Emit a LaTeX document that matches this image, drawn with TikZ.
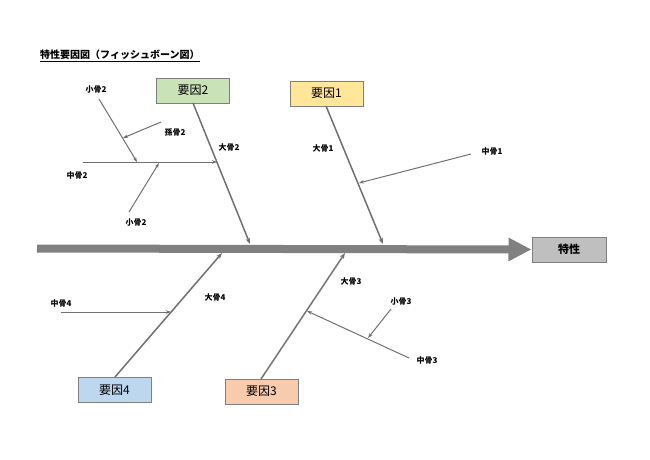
\documentclass[tikz,border=0pt]{standalone}
\usepackage{fontspec}
\setmainfont{Noto Sans CJK JP}
\usetikzlibrary{arrows.meta}
\definecolor{bonegray}{HTML}{707070}
\definecolor{spinegray}{HTML}{808080}
\definecolor{boxgray}{HTML}{7F7F7F}
\definecolor{fgreen}{HTML}{C9E2B8}
\definecolor{fyellow}{HTML}{FFE699}
\definecolor{fblue}{HTML}{BDD7EE}
\definecolor{forange}{HTML}{F8CBAD}
\definecolor{fgray}{HTML}{BFBFBF}
\tikzset{
  box/.style={draw=boxgray, line width=1pt, minimum width=73pt, minimum height=25pt, inner sep=0pt, font=\fontsize{12}{12}\selectfont},
  lbl/.style={font=\fontsize{8}{8}\selectfont\bfseries, inner sep=0pt},
  bigbone/.style={draw=bonegray, line width=1.5pt, -{Stealth[length=6pt,width=4.5pt]}},
  midbone/.style={draw=bonegray, line width=1pt, -{Stealth[length=5pt,width=3.5pt]}},
}
\begin{document}
\begin{tikzpicture}[x=1pt,y=-1pt]
\useasboundingbox (0,0) rectangle (650,460);
% title
\node[anchor=west, inner sep=0pt, font=\fontsize{10}{10}\selectfont\bfseries] (title) at (40,56) {\underline{特性要因図（フィッシュボーン図）}};
% boxes
\node[box, fill=fgray, minimum width=74pt, font=\fontsize{11}{11}\selectfont\bfseries] (res) at (569,249.5) {特性};
\node[box, fill=fgreen] (k2) at (193,90.5) {要因2};
\node[box, fill=fyellow] (k1) at (326.5,93.5) {要因1};
\node[box, fill=fblue] (k4) at (114.5,390) {要因4};
\node[box, fill=forange] (k3) at (261.5,391.5) {要因3};
% spine
\coordinate (sp0) at (37,248.5);
\draw[draw=spinegray, line width=8pt, -{Triangle[width=22pt,length=23pt]}] (sp0) -- (res.west);
% big bones
\coordinate (b2s) at (193,103);
\coordinate (b2e) at (250,244);
\coordinate (b1s) at (326,106);
\coordinate (b1e) at (383,244);
\coordinate (b4s) at (115,377);
\coordinate (b4e) at (222,253);
\coordinate (b3s) at (261,379);
\coordinate (b3e) at (345,253);
\draw[bigbone] (b2s) -- (b2e);
\draw[bigbone] (b1s) -- (b1e);
\draw[bigbone] (b4s) -- (b4e);
\draw[bigbone] (b3s) -- (b3e);
% middle bones
\coordinate (m2s) at (83,162);
\coordinate (m2e) at (217,162);
\draw[midbone] (m2s) -- (m2e);
\coordinate (m1s) at (471,154);
\coordinate (m1e) at (359,183);
\draw[midbone] (m1s) -- (m1e);
\coordinate (m4s) at (61,312);
\coordinate (m4e) at (171,312);
\draw[midbone] (m4s) -- (m4e);
\coordinate (m3s) at (409,358);
\coordinate (m3e) at (307,311);
\draw[midbone] (m3s) -- (m3e);
% small bones
\coordinate (s2as) at (99,99);
\coordinate (s2ae) at (137,162);
\draw[midbone] (s2as) -- (s2ae);
\coordinate (g2s) at (161,122);
\coordinate (g2e) at (123,138);
\draw[midbone] (g2s) -- (g2e);
\coordinate (s2bs) at (129,212);
\coordinate (s2be) at (159,163);
\draw[midbone] (s2bs) -- (s2be);
\coordinate (s3s) at (391,309);
\coordinate (s3e) at (368,338);
\draw[midbone] (s3s) -- (s3e);
% labels
\node[lbl] (l_s2a) at (96,90) {小骨2};
\node[lbl] (l_g2) at (175,132) {孫骨2};
\node[lbl] (l_m2) at (77,175) {中骨2};
\node[lbl] (l_b2) at (229,147) {大骨2};
\node[lbl] (l_s2b) at (136,223) {小骨2};
\node[lbl] (l_b1) at (323,148) {大骨1};
\node[lbl] (l_m1) at (492,151) {中骨1};
\node[lbl] (l_m4) at (61,303) {中骨4};
\node[lbl] (l_b4) at (215,297) {大骨4};
\node[lbl] (l_b3) at (351,281) {大骨3};
\node[lbl] (l_s3) at (401,302) {小骨3};
\node[lbl] (l_m3) at (427,360) {中骨3};
\end{tikzpicture}
\end{document}
